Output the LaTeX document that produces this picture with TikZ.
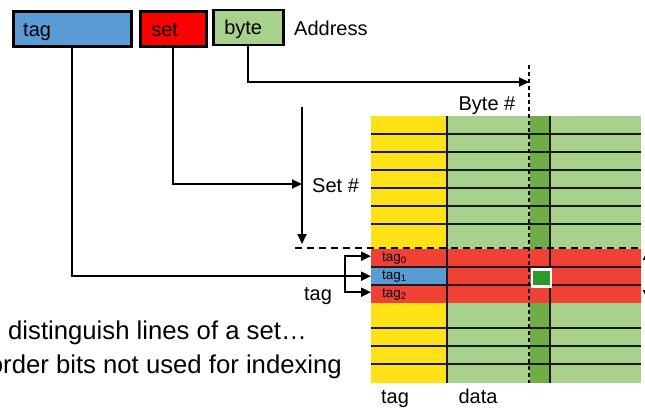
\documentclass[tikz,border=0pt]{standalone}
\usepackage{fontspec}
\setmainfont{Liberation Sans}
\usetikzlibrary{arrows.meta,calc}
\definecolor{cBlue}{HTML}{5B9BD5}
\definecolor{cRedBox}{HTML}{FF0000}
\definecolor{cGreenBox}{HTML}{A9D18E}
\definecolor{cYellow}{HTML}{FFE216}
\definecolor{cLightGreen}{HTML}{A9D18E}
\definecolor{cDarkGreen}{HTML}{70AD47}
\definecolor{cRed}{HTML}{EF4136}
\definecolor{cSquare}{HTML}{2A9A2A}
\definecolor{cGrid}{HTML}{1A1A1A}
\begin{document}
\begin{tikzpicture}[x=1pt,y=-1pt,
  fieldbox/.style={draw=black,line width=2.5pt,anchor=north west,minimum height=35pt,
    text height=16.5pt,text depth=1.5pt,align=left,inner ysep=0pt,
    font=\fontsize{20}{24}\selectfont},
  lbl/.style={inner sep=0pt,font=\fontsize{20}{24}\selectfont},
  biglbl/.style={inner sep=0pt,anchor=base west,font=\fontsize{25.7}{30}\selectfont},
  small/.style={inner sep=0pt,anchor=base west,font=\fontsize{13.5}{15}\selectfont},
  conn/.style={line width=2pt,-{Triangle[length=10pt,width=9pt]}},
  plain/.style={line width=2pt},
  gridline/.style={line width=1.2pt,draw=cGrid},
  cell/.style={draw=none,inner sep=0pt,anchor=north west},
]
\useasboundingbox (0,0) rectangle (645,407);
\clip (0,0) rectangle (645,407);

% address fields
\node[fieldbox,fill=cBlue,minimum width=118pt,text width=98pt,inner xsep=10pt] (tagbox) at (12,10) {tag};
\node[fieldbox,fill=cRedBox,minimum width=66pt,text width=44pt,inner xsep=11pt] (setbox) at (139,10) {set};
\node[fieldbox,fill=cGreenBox,minimum width=70pt,text width=48pt,inner xsep=11pt] (bytebox) at (212,8.5) {byte};
\node[lbl,anchor=base west] (addr) at (294,35) {Address};

% cache array
\fill[cYellow] (371,116) rectangle (447,383);
\fill[cLightGreen] (447,116) rectangle (641,383);
\fill[cDarkGreen] (530,116) rectangle (550,383);
\node[cell,fill=cRed,minimum width=270pt,minimum height=18pt] (row0) at (371,249) {};
\node[cell,fill=cRed,minimum width=270pt,minimum height=18pt] (row1) at (371,267) {};
\node[cell,fill=cRed,minimum width=270pt,minimum height=18pt] (row2) at (371,285) {};
\node[cell,fill=cBlue,minimum width=76pt,minimum height=18pt] (tag1cell) at (371,267) {};
\foreach \yy in {134,152,170,188,206,224,267,285,328,346,364}
  \draw[gridline] (371,\yy) -- (641,\yy);
\draw[gridline] (447,116) -- (447,383);
\draw[gridline] (550,116) -- (550,383);
\node[small] (t0) at (382,261.5) {tag\textsubscript{0}};
\node[small] (t1) at (382,279.5) {tag\textsubscript{1}};
\node[small] (t2) at (382,297.5) {tag\textsubscript{2}};
% selected byte
\node[cell,fill=cSquare,draw=white,line width=2.5pt,minimum width=19pt,minimum height=17pt] (hit) at (530.5,268) {};

% dashed guides
\coordinate (bytetop) at (529,65);
\coordinate (bytebot) at (529,383);
\coordinate (setleft) at (295,248);
\coordinate (setright) at (641,248);
\draw[line width=1.3pt,dash pattern=on 4pt off 3pt] (bytetop) -- (bytebot);
\draw[line width=1.5pt,dash pattern=on 7pt off 5pt] (setleft) -- (setright);

% byte connector
\coordinate (bytetip) at (529,82);
\draw[conn] (bytebox.south) |- (bytetip);
\node[lbl,anchor=base] (bytenum) at (487,110) {Byte \#};

% set connector
\coordinate (setax) at (302,184);
\coordinate (setarrtop) at (302,107);
\coordinate (setarrbot) at (302,244);
\draw[conn] (setbox.south) |- (setax);
\draw[conn] (setarrtop) -- (setarrbot);
\node[lbl,anchor=base west] (setnum) at (312,192) {Set \#};

% tag connector
\coordinate (br) at (345,276);
\draw[conn] (tagbox.south) |- (row1.west);
\draw[plain] ($(br)+(0,-20)$) -- ($(br)+(0,16)$);
\draw[conn] ($(br)+(0,-1)$) |- ($(row0.west)+(0,-2)$);
\draw[conn] ($(br)+(0,1)$) |- ($(row2.west)+(0,-2)$);
\node[lbl,anchor=base] (taglbl) at (318,300) {tag};

% cut-off arrow at the right edge
\coordinate (rtop) at (647,251);
\coordinate (rbot) at (647,299);
\draw[line width=2pt,{Triangle[length=9pt,width=8pt]}-{Triangle[length=9pt,width=8pt]}] (rtop) -- (rbot);

% column labels
\node[lbl,anchor=base] (coltag) at (395,403) {tag};
\node[lbl,anchor=base] (coldata) at (478,403) {data};

% text at the left
\node[biglbl] (line1) at (8,339) {\llap{to }distinguish lines of a set…};
\node[biglbl] (line2) at (3,373) {\llap{o}rder bits not used for indexing};
\end{tikzpicture}
\end{document}
